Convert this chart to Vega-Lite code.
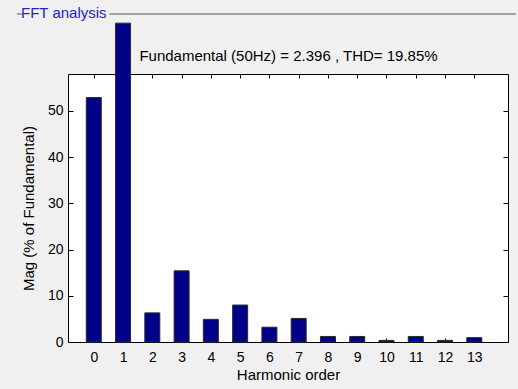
{
  "$schema": "https://vega.github.io/schema/vega-lite/v6.json",
  "width": 440,
  "height": 268,
  "autosize": "none",
  "padding": {"left": 68, "top": 74, "right": 10, "bottom": 47},
  "background": "#f0f0f0",
  "title": {
    "text": "FFT analysis",
    "anchor": "start",
    "frame": "group",
    "dx": -47,
    "offset": -20,
    "baseline": "alphabetic",
    "color": "#2323c8",
    "font": "Liberation Sans",
    "fontSize": 15,
    "fontWeight": "normal"
  },
  "config": {
    "view": {"fill": "white", "stroke": "black", "strokeWidth": 1},
    "axis": {
      "grid": false,
      "domain": false,
      "tickColor": "black",
      "labelColor": "black",
      "labelFont": "Liberation Sans",
      "labelFontSize": 14,
      "titleFont": "Liberation Sans",
      "titleFontSize": 15,
      "titleFontWeight": "normal",
      "titleColor": "black"
    }
  },
  "data": {
    "values": [
      {"order": 0, "mag": 52.9},
      {"order": 1, "mag": 69},
      {"order": 2, "mag": 6.3},
      {"order": 3, "mag": 15.4},
      {"order": 4, "mag": 4.9},
      {"order": 5, "mag": 8.0},
      {"order": 6, "mag": 3.2},
      {"order": 7, "mag": 5.1},
      {"order": 8, "mag": 1.2},
      {"order": 9, "mag": 1.2},
      {"order": 10, "mag": 0.35},
      {"order": 11, "mag": 1.2},
      {"order": 12, "mag": 0.35},
      {"order": 13, "mag": 0.95}
    ]
  },
  "layer": [
    {
      "mark": {"type": "bar", "size": 15, "color": "#000088", "stroke": "#2a2a2a", "strokeWidth": 1},
      "encoding": {
        "x": {
          "field": "order",
          "type": "quantitative",
          "scale": {"domain": [-0.71, 13.98], "nice": false, "zero": false},
          "axis": {
            "orient": "bottom",
            "values": [0, 1, 2, 3, 4, 5, 6, 7, 8, 9, 10, 11, 12, 13],
            "format": "d",
            "tickSize": -4,
            "labelPadding": 12,
            "title": "Harmonic order",
            "titlePadding": 3
          }
        },
        "y": {
          "field": "mag",
          "type": "quantitative",
          "scale": {"domain": [0, 58], "nice": false},
          "axis": {
            "orient": "left",
            "values": [0, 10, 20, 30, 40, 50],
            "tickSize": -5,
            "labelPadding": 10,
            "title": "Mag (% of Fundamental)",
            "titlePadding": 11
          }
        }
      }
    },
    {
      "mark": {"type": "point", "opacity": 0},
      "encoding": {
        "x": {
          "field": "order",
          "type": "quantitative",
          "axis": {
            "orient": "top",
            "values": [0, 1, 2, 3, 4, 5, 6, 7, 8, 9, 10, 11, 12, 13],
            "labels": false,
            "tickSize": -4,
            "title": "Fundamental (50Hz) = 2.396 , THD= 19.85%",
            "titlePadding": 10
          }
        },
        "y": {
          "field": "mag",
          "type": "quantitative",
          "axis": {
            "orient": "right",
            "values": [0, 10, 20, 30, 40, 50],
            "labels": false,
            "tickSize": -5,
            "title": null
          }
        }
      }
    },
    {
      "mark": {"type": "rule", "color": "#a0a0a0", "strokeWidth": 1},
      "encoding": {
        "x": {"datum": -2.61, "type": "quantitative", "axis": null},
        "x2": {"datum": -2.48},
        "y": {"datum": 71, "type": "quantitative", "axis": null}
      }
    },
    {
      "mark": {"type": "rule", "color": "#a0a0a0", "strokeWidth": 1},
      "encoding": {
        "x": {"datum": 0.55, "type": "quantitative", "axis": null},
        "x2": {"datum": 14.4},
        "y": {"datum": 71, "type": "quantitative", "axis": null}
      }
    }
  ],
  "resolve": {"axis": {"x": "independent", "y": "independent"}}
}
